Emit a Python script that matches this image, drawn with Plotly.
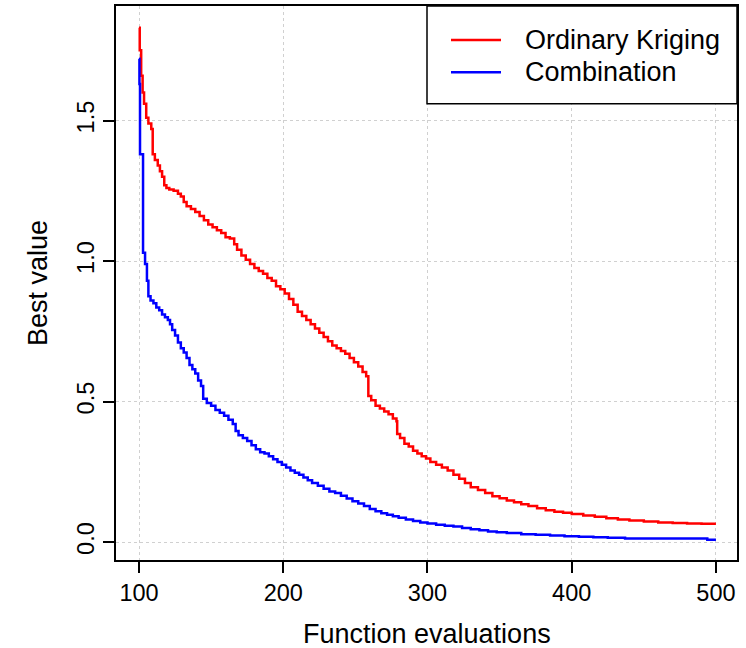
import plotly.graph_objects as go

# Best objective value found so far vs. number of function evaluations
ok_evals = [100, 100.5, 101.5, 102.5, 103.5, 105, 106.5, 108.5, 109.5, 111, 113, 114.5, 116,
            117.5, 119, 121, 124, 127, 129, 131, 133, 136, 139, 142, 145, 148, 151, 154, 157,
            160, 163, 166, 168, 171, 174, 177, 180, 183, 186, 189, 192, 195, 198, 201, 204,
            207, 210, 213, 216, 219, 222, 225, 228, 231, 234, 237, 240, 243, 246, 249, 252,
            255, 257.5, 259, 261, 264, 267, 270, 273, 276, 278.5, 279, 281, 284, 287, 290,
            293, 296, 299, 302, 306, 310, 314, 318, 322, 326, 330, 335, 340, 345, 350, 355,
            360, 365, 370, 376, 382, 388, 394, 400, 408, 416, 424, 432, 440, 450, 460, 470,
            480, 490, 500]
ok_best = [1.83, 1.75, 1.66, 1.60, 1.56, 1.51, 1.49, 1.47, 1.38, 1.36, 1.34, 1.32, 1.30,
           1.27, 1.26, 1.255, 1.25, 1.24, 1.23, 1.21, 1.195, 1.185, 1.175, 1.16, 1.145, 1.13,
           1.12, 1.11, 1.10, 1.085, 1.08, 1.06, 1.04, 1.02, 1.005, 0.99, 0.975, 0.965, 0.955,
           0.94, 0.93, 0.91, 0.90, 0.885, 0.865, 0.845, 0.82, 0.805, 0.79, 0.775, 0.76, 0.745,
           0.73, 0.715, 0.70, 0.69, 0.68, 0.67, 0.655, 0.64, 0.625, 0.605, 0.59, 0.52, 0.505,
           0.485, 0.475, 0.465, 0.455, 0.44, 0.43, 0.385, 0.37, 0.35, 0.34, 0.325, 0.315,
           0.305, 0.297, 0.285, 0.275, 0.265, 0.255, 0.24, 0.225, 0.21, 0.195, 0.185, 0.175,
           0.163, 0.156, 0.148, 0.142, 0.135, 0.128, 0.12, 0.113, 0.108, 0.104, 0.10, 0.095,
           0.09, 0.085, 0.08, 0.077, 0.073, 0.07, 0.068, 0.066, 0.065, 0.065]

comb_evals = [100, 100.3, 100.7, 102.8, 104.2, 105.5, 106.5, 108, 110, 112, 114, 116, 118,
              120, 121.5, 123, 125, 127, 129, 131, 133, 135, 137, 139, 141, 143, 144.5, 147,
              150, 153, 156, 159, 162, 165, 167, 169, 172, 175, 178, 181, 184, 187, 190, 193,
              196, 199, 202, 205, 208, 211, 214, 217, 220, 224, 228, 232, 236, 240, 244, 248,
              252, 256, 260, 264, 268, 272, 276, 280, 285, 290, 295, 300, 306, 312, 318, 324,
              330, 336, 342, 348, 355, 365, 375, 385, 395, 405, 415, 425, 437, 494, 500]
comb_best = [1.72, 1.63, 1.38, 1.03, 0.99, 0.93, 0.875, 0.86, 0.85, 0.835, 0.825, 0.81, 0.80,
             0.79, 0.775, 0.755, 0.735, 0.71, 0.69, 0.675, 0.655, 0.63, 0.615, 0.60, 0.575,
             0.555, 0.51, 0.495, 0.485, 0.47, 0.46, 0.45, 0.435, 0.42, 0.395, 0.38, 0.37, 0.36,
             0.345, 0.33, 0.32, 0.315, 0.305, 0.295, 0.285, 0.275, 0.265, 0.255, 0.247, 0.24,
             0.23, 0.22, 0.21, 0.20, 0.19, 0.18, 0.175, 0.165, 0.155, 0.145, 0.137, 0.128,
             0.118, 0.11, 0.103, 0.097, 0.092, 0.087, 0.08, 0.075, 0.07, 0.066, 0.062, 0.058,
             0.055, 0.05, 0.046, 0.042, 0.038, 0.035, 0.032, 0.028, 0.026, 0.023, 0.021, 0.019,
             0.017, 0.015, 0.013, 0.008, 0.008]

series_names = ["Ordinary Kriging", "Combination"]
series_colors = ["#ff0000", "#0000ff"]
x_ticks = [100, 200, 300, 400, 500]
y_ticks = [0.0, 0.5, 1.0, 1.5]
y_tick_text = ["0.0", "0.5", "1.0", "1.5"]

FONT = "Liberation Sans, Arial, sans-serif"
W, H = 746, 648
ML, MR, MT, MB = 116, 9, 4, 88
PW, PH = W - ML - MR, H - MT - MB


def px_x(p):
    return (p - ML) / PW


def px_y(p):
    return (H - MB - p) / PH


fig = go.Figure()
for xs, ys, name, col in [(ok_evals, ok_best, series_names[0], series_colors[0]),
                          (comb_evals, comb_best, series_names[1], series_colors[1])]:
    fig.add_trace(go.Scatter(x=xs, y=ys, mode="lines", name=name,
                             line=dict(color=col, width=2.5, shape="hv"),
                             showlegend=False))

axis_common = dict(showline=True, mirror=True, linecolor="black", linewidth=1.5,
                   ticks="outside", ticklen=11, tickwidth=1.5, tickcolor="black",
                   showgrid=True, gridcolor="#d0d0d0", griddash="dot", gridwidth=1,
                   zeroline=False, tickfont=dict(family=FONT, size=23.5, color="black"))

fig.update_xaxes(range=[84.05, 514.6], tickvals=x_ticks,
                 ticktext=[str(v) for v in x_ticks], **axis_common)
fig.update_yaxes(range=[-0.0638, 1.9078], tickvals=y_ticks, ticktext=y_tick_text,
                 tickangle=-90, **axis_common)

# Legend box drawn in the top-right corner of the plotting region
shapes = [dict(type="rect", xref="paper", yref="paper",
               x0=px_x(427), x1=px_x(737), y0=px_y(102), y1=px_y(4),
               line=dict(color="black", width=1.5), fillcolor="white", layer="above")]
annotations = []
for i, (name, col) in enumerate(zip(series_names, series_colors)):
    yc = 38 + 32.5 * i
    shapes.append(dict(type="line", xref="paper", yref="paper",
                       x0=px_x(451), x1=px_x(501), y0=px_y(yc), y1=px_y(yc),
                       line=dict(color=col, width=2.5), layer="above"))
    annotations.append(dict(x=px_x(523), y=px_y(yc), xref="paper", yref="paper",
                            text=name, showarrow=False, xanchor="left", yanchor="middle",
                            font=dict(family=FONT, size=27, color="black")))

annotations.append(dict(x=0.5, y=px_y(634), xref="paper", yref="paper",
                        text="Function evaluations", showarrow=False,
                        xanchor="center", yanchor="middle",
                        font=dict(family=FONT, size=27, color="black")))
annotations.append(dict(x=px_x(38), y=0.5, xref="paper", yref="paper",
                        text="Best value", showarrow=False, textangle=-90,
                        xanchor="center", yanchor="middle",
                        font=dict(family=FONT, size=27, color="black")))

fig.update_layout(width=W, height=H, margin=dict(l=ML, r=MR, t=MT, b=MB),
                  paper_bgcolor="white", plot_bgcolor="white",
                  shapes=shapes, annotations=annotations, showlegend=False)

fig.write_html("out.html")
